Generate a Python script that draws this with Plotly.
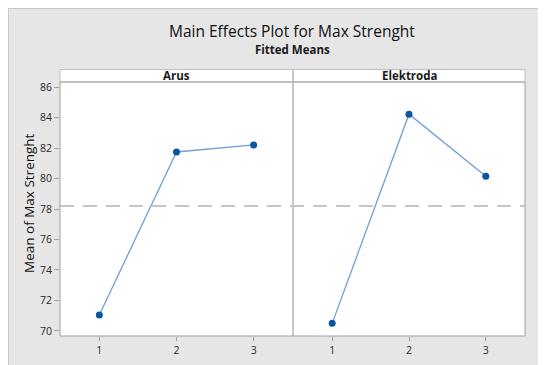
import plotly.graph_objects as go

# ---- data ----
levels = [1, 2, 3]
arus_means = [71.05, 81.74, 82.2]
elektroda_means = [70.5, 84.22, 80.15]
grand_mean = 78.2
panel_titles = ["Arus", "Elektroda"]
y_ticks = [70, 72, 74, 76, 78, 80, 82, 84, 86]

W, H = 546, 365
OFF = 8  # page body margin in the browser
# plot area in screenshot pixels: x 60..525, y 82..336
L = 60 - OFF
T = 82 - OFF
R = W - (525 - OFF)
B = H - (336 - OFF)
PW, PH = W - L - R, H - T - B


def px(x):
    return (x - OFF - L) / PW


def py(y):
    return (H - B - (y - OFF)) / PH


split = px(293)
LINE = "#6f9fd6"
MARK = "#0b55a3"

fig = go.Figure()
fig.add_trace(go.Scatter(x=levels, y=arus_means, mode="lines+markers",
                         line=dict(color=LINE, width=1.3),
                         marker=dict(color=MARK, size=7),
                         xaxis="x", yaxis="y", showlegend=False))
fig.add_trace(go.Scatter(x=levels, y=elektroda_means, mode="lines+markers",
                         line=dict(color=LINE, width=1.3),
                         marker=dict(color=MARK, size=7),
                         xaxis="x2", yaxis="y2", showlegend=False))

tickfont = dict(family="Open Sans", size=10.5, color="#2a2a2a")
yrange = [69.67, 86.33]
xrange = [0.49, 3.51]

fig.update_layout(
    width=W, height=H,
    margin=dict(l=L, r=R, t=T, b=B),
    paper_bgcolor="#e6e6e6",
    plot_bgcolor="white",
    xaxis=dict(domain=[0, split], range=xrange, tickvals=levels,
               ticks="outside", ticklen=4, tickcolor="#a0a0a0",
               showgrid=False, zeroline=False, showline=False,
               tickfont=tickfont, fixedrange=True),
    xaxis2=dict(domain=[split, 1], range=xrange, tickvals=levels,
                ticks="outside", ticklen=4, tickcolor="#a0a0a0",
                showgrid=False, zeroline=False, showline=False,
                tickfont=tickfont, fixedrange=True),
    yaxis=dict(range=yrange, tickvals=y_ticks, ticks="outside", ticklen=5,
               tickcolor="#a0a0a0", showgrid=False, zeroline=False,
               showline=False, tickfont=tickfont, anchor="x"),
    yaxis2=dict(range=yrange, matches="y", showticklabels=False,
                ticks="", showgrid=False, zeroline=False, showline=False,
                anchor="x2"),
)

shapes = []
# thin edge line of the figure
shapes.append(dict(type="line", xref="paper", yref="paper",
                   x0=px(8.5), x1=px(8.5), y0=py(8), y1=py(H + 10),
                   line=dict(color="#c8c8c8", width=1)))
shapes.append(dict(type="line", xref="paper", yref="paper",
                   x0=px(8), x1=px(W + 10), y0=py(8.5), y1=py(8.5),
                   line=dict(color="#c8c8c8", width=1)))
# strip backgrounds
shapes.append(dict(type="rect", xref="paper", yref="paper",
                   x0=0, x1=1, y0=1, y1=py(69.5),
                   fillcolor="white", line=dict(color="#c0c0c0", width=1)))
# mean dashed reference line
shapes.append(dict(type="line", xref="paper", yref="y",
                   x0=0, x1=1, y0=grand_mean, y1=grand_mean,
                   line=dict(color="#b4b4b4", width=1.5, dash="14px,9px"),
                   layer="below"))
# panel divider
shapes.append(dict(type="line", xref="paper", yref="paper",
                   x0=split, x1=split, y0=0, y1=py(69.5),
                   line=dict(color="#c8c8c8", width=2)))
# frame
shapes.append(dict(type="rect", xref="paper", yref="paper",
                   x0=0, x1=1, y0=0, y1=1,
                   line=dict(color="#a0a0a0", width=1)))
fig.update_layout(shapes=shapes)

ann = []
ann.append(dict(text="Main Effects Plot for Max Strenght", xref="paper", yref="paper",
                x=px(292), y=py(31.5), showarrow=False, xanchor="center", yanchor="middle",
                font=dict(family="Open Sans", size=15.5, color="#111111")))
ann.append(dict(text="<b>Fitted Means</b>", xref="paper", yref="paper",
                x=px(292), y=py(49.5), showarrow=False, xanchor="center", yanchor="middle",
                font=dict(family="Open Sans", size=11.5, color="#1a1a1a")))
ann.append(dict(text="Mean of Max Strenght", xref="paper", yref="paper",
                x=px(29), y=py(203), showarrow=False, xanchor="center", yanchor="middle",
                textangle=-90,
                font=dict(family="Open Sans", size=13.5, color="#111111")))
centers = [(0 + split) / 2, (split + 1) / 2]
for t, c in zip(panel_titles, centers):
    ann.append(dict(text="<b>" + t + "</b>", xref="paper", yref="paper", x=c, y=py(75.5),
                    showarrow=False, xanchor="center", yanchor="middle",
                    font=dict(family="Open Sans", size=11.5, color="#1a1a1a")))
fig.update_layout(annotations=ann)

fig.write_html("out.html")
